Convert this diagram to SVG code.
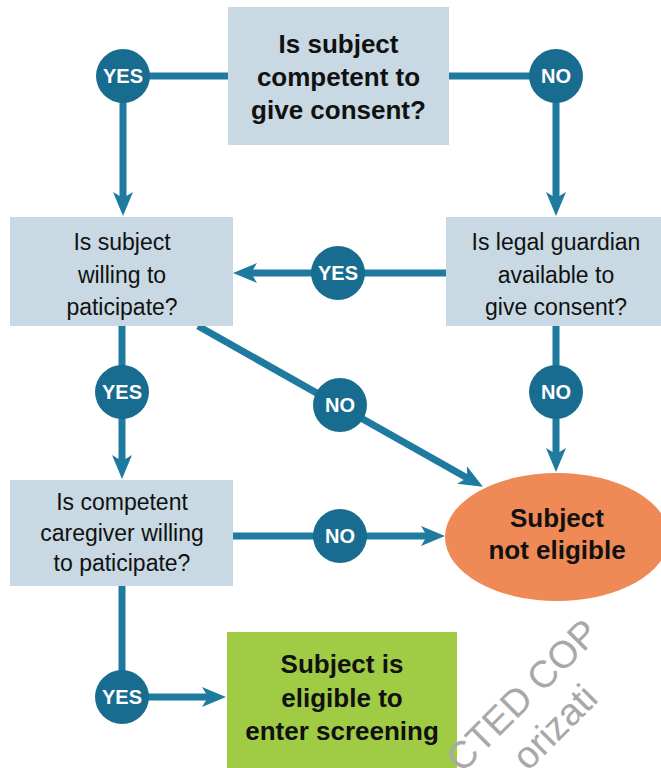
<svg xmlns="http://www.w3.org/2000/svg" width="661" height="768" viewBox="0 0 661 768">
<style>
.box{fill:#c8d9e3}
.q{font-family:"Liberation Sans",Arial,sans-serif;font-size:23px;fill:#111;text-anchor:middle}
.b{font-family:"Liberation Sans",Arial,sans-serif;font-size:26px;font-weight:bold;fill:#111;text-anchor:middle}
.c{fill:#186c90}
.l{font-family:"Liberation Sans",Arial,sans-serif;font-size:20px;font-weight:bold;fill:#fff;text-anchor:middle}
.ln{fill:none;stroke:#1f7a9f;stroke-width:7}
.wm{font-family:"Liberation Sans",Arial,sans-serif;font-size:38px;fill:#a8a8a8}
</style>
<defs>
<marker id="ah" markerUnits="userSpaceOnUse" markerWidth="30" markerHeight="30" refX="0" refY="0" orient="auto" overflow="visible">
<path d="M16,0 L-8,-10 L-2,0 L-8,10 Z" fill="#1f7a9f"/>
</marker>
</defs>
<rect width="661" height="768" fill="#fff"/>
<g id="connectors">
<path class="ln" d="M228,76 H123 V200" marker-end="url(#ah)"/>
<path class="ln" d="M449,76 H556 V200" marker-end="url(#ah)"/>
<path class="ln" d="M446,273 H249" marker-end="url(#ah)"/>
<path class="ln" d="M122,326 V463" marker-end="url(#ah)"/>
<path class="ln" d="M198,326 L469,479" marker-end="url(#ah)"/>
<path class="ln" d="M556,326 V456" marker-end="url(#ah)"/>
<path class="ln" d="M233,536 H429" marker-end="url(#ah)"/>
<path class="ln" d="M122,586 V697 H210" marker-end="url(#ah)"/>
</g>
<g id="q1">
<rect class="box" x="228" y="7" width="221" height="138"/>
<text class="b" x="338.5" y="53">Is subject</text>
<text class="b" x="338.5" y="86">competent to</text>
<text class="b" x="338.5" y="119">give consent?</text>
</g>
<g id="q2">
<rect class="box" x="10" y="217" width="223" height="109"/>
<text class="q" x="122" y="250">Is subject</text>
<text class="q" x="122" y="283">willing to</text>
<text class="q" x="122" y="315">paticipate?</text>
</g>
<g id="q3">
<rect class="box" x="446" y="217" width="215" height="109"/>
<text class="q" x="556" y="250">Is legal guardian</text>
<text class="q" x="556" y="283">available to</text>
<text class="q" x="556" y="315">give consent?</text>
</g>
<g id="q4">
<rect class="box" x="10" y="480" width="223" height="106"/>
<text class="q" x="122" y="510">Is competent</text>
<text class="q" x="122" y="541">caregiver willing</text>
<text class="q" x="122" y="571">to paticipate?</text>
</g>
<g id="notEligible">
<ellipse cx="557" cy="537" rx="112" ry="64" fill="#ef8a57"/>
<text class="b" x="557" y="527">Subject</text>
<text class="b" x="557" y="559">not eligible</text>
</g>
<g id="eligible">
<rect x="227" y="632" width="230" height="150" fill="#9fcb45"/>
<text class="b" x="342" y="673">Subject is</text>
<text class="b" x="342" y="707">eligible to</text>
<text class="b" x="342" y="740">enter screening</text>
</g>
<g id="yes1"><circle class="c" cx="123" cy="76" r="27"/><text class="l" x="123" y="83">YES</text></g>
<g id="no1"><circle class="c" cx="556" cy="76" r="27"/><text class="l" x="556" y="83">NO</text></g>
<g id="yes2"><circle class="c" cx="338" cy="273" r="27"/><text class="l" x="338" y="280">YES</text></g>
<g id="yes3"><circle class="c" cx="122" cy="392" r="27"/><text class="l" x="122" y="399">YES</text></g>
<g id="no2"><circle class="c" cx="340" cy="405" r="27"/><text class="l" x="340" y="412">NO</text></g>
<g id="no3"><circle class="c" cx="556" cy="392" r="27"/><text class="l" x="556" y="399">NO</text></g>
<g id="no4"><circle class="c" cx="340" cy="536" r="27"/><text class="l" x="340" y="543">NO</text></g>
<g id="yes4"><circle class="c" cx="122" cy="697" r="27"/><text class="l" x="122" y="704">YES</text></g>
<g id="watermark">
<text class="wm" transform="translate(462,774) rotate(-45)">CTED COP</text>
<text class="wm" transform="translate(528,772) rotate(-45)">orizati</text>
</g>
</svg>
